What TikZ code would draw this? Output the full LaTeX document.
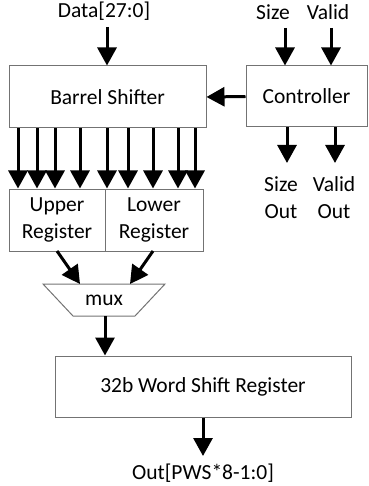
\documentclass[tikz,border=0pt]{standalone}
\usepackage{fontspec}
\setmainfont{Carlito}
\usetikzlibrary{arrows.meta}
\begin{document}
\begin{tikzpicture}[x=1pt,y=-1pt,
  box/.style={draw={rgb,255:red,115;green,115;blue,115}, line width=1pt, inner sep=0pt, rectangle},
  lbl/.style={inner sep=0pt, font=\fontsize{21.5}{27}\selectfont, align=center},
  arr/.style={line width=3pt, -{Triangle[width=19pt,length=18pt]}}]
\useasboundingbox (0,0) rectangle (368,486);
% boxes
\node[box, minimum width=197pt, minimum height=62pt] (barrel) at (107.5,97) {};
\node[lbl] at (barrel.center) {Barrel Shifter};
\node[box, minimum width=121pt, minimum height=61pt] (ctrl) at (306.5,96.5) {};
\node[lbl] at (ctrl.center) {Controller};
\node[box, minimum width=96pt, minimum height=62pt] (upper) at (57,220) {};
\node[lbl] at (upper.center) {Upper\\Register};
\node[box, minimum width=98pt, minimum height=62pt] (lower) at (154,220) {};
\node[lbl] at (lower.center) {Lower\\Register};
\node[box, minimum width=296pt, minimum height=61pt] (word) at (203,386.5) {};
\node[lbl] at (word.center) {32b Word Shift Register};
% mux
\coordinate (m1) at (43,284); \coordinate (m2) at (165,284);
\coordinate (m3) at (135,316); \coordinate (m4) at (73,316);
\draw[draw={rgb,255:red,115;green,115;blue,115}, line width=1pt] (m1) -- (m2) -- (m3) -- (m4) -- cycle;
\node[lbl] (mux) at (104,300) {mux};
% labels
\node[lbl] (data) at (104,11) {Data[27:0]};
\node[lbl] (size) at (273,12) {Size};
\node[lbl] (valid) at (328,12) {Valid};
\node[lbl] (sizeout) at (281,197.5) {Size\\Out};
\node[lbl] (validout) at (334,197.5) {Valid\\Out};
\node[lbl] (out) at (203,473) {Out[PWS*8-1:0]};
% inputs
\coordinate (d0) at (107,27);
\draw[arr] (d0) -- (d0 |- barrel.north);
\coordinate (s0) at (285,28);
\draw[arr] (s0) -- (s0 |- ctrl.north);
\coordinate (v0) at (331,28);
\draw[arr] (v0) -- (v0 |- ctrl.north);
% controller to barrel
\draw[arr] (ctrl.west) -- (barrel.east);
% controller outputs
\coordinate (so) at (287,163);
\draw[arr] (so |- ctrl.south) -- (so);
\coordinate (vo) at (335,163);
\draw[arr] (vo |- ctrl.south) -- (vo);
% barrel to registers
\foreach \x in {18,37,55,80} {
  \draw[arr] (barrel.south -| \x,0) -- (upper.north -| \x,0);
}
\foreach \x in {107,128,153,178,195} {
  \draw[arr] (barrel.south -| \x,0) -- (lower.north -| \x,0);
}
% registers to mux
\coordinate (ua) at (57,251); \coordinate (ut) at (80,284);
\coordinate (la) at (153,251); \coordinate (lt) at (130,284);
\draw[arr] (ua) -- (ut);
\draw[arr] (la) -- (lt);
% mux to word
\coordinate (mo) at (105,316);
\draw[arr] (mo) -- (mo |- word.north);
% word to out
\coordinate (wo) at (203,456);
\draw[arr] (word.south) -- (wo);
\end{tikzpicture}
\end{document}
